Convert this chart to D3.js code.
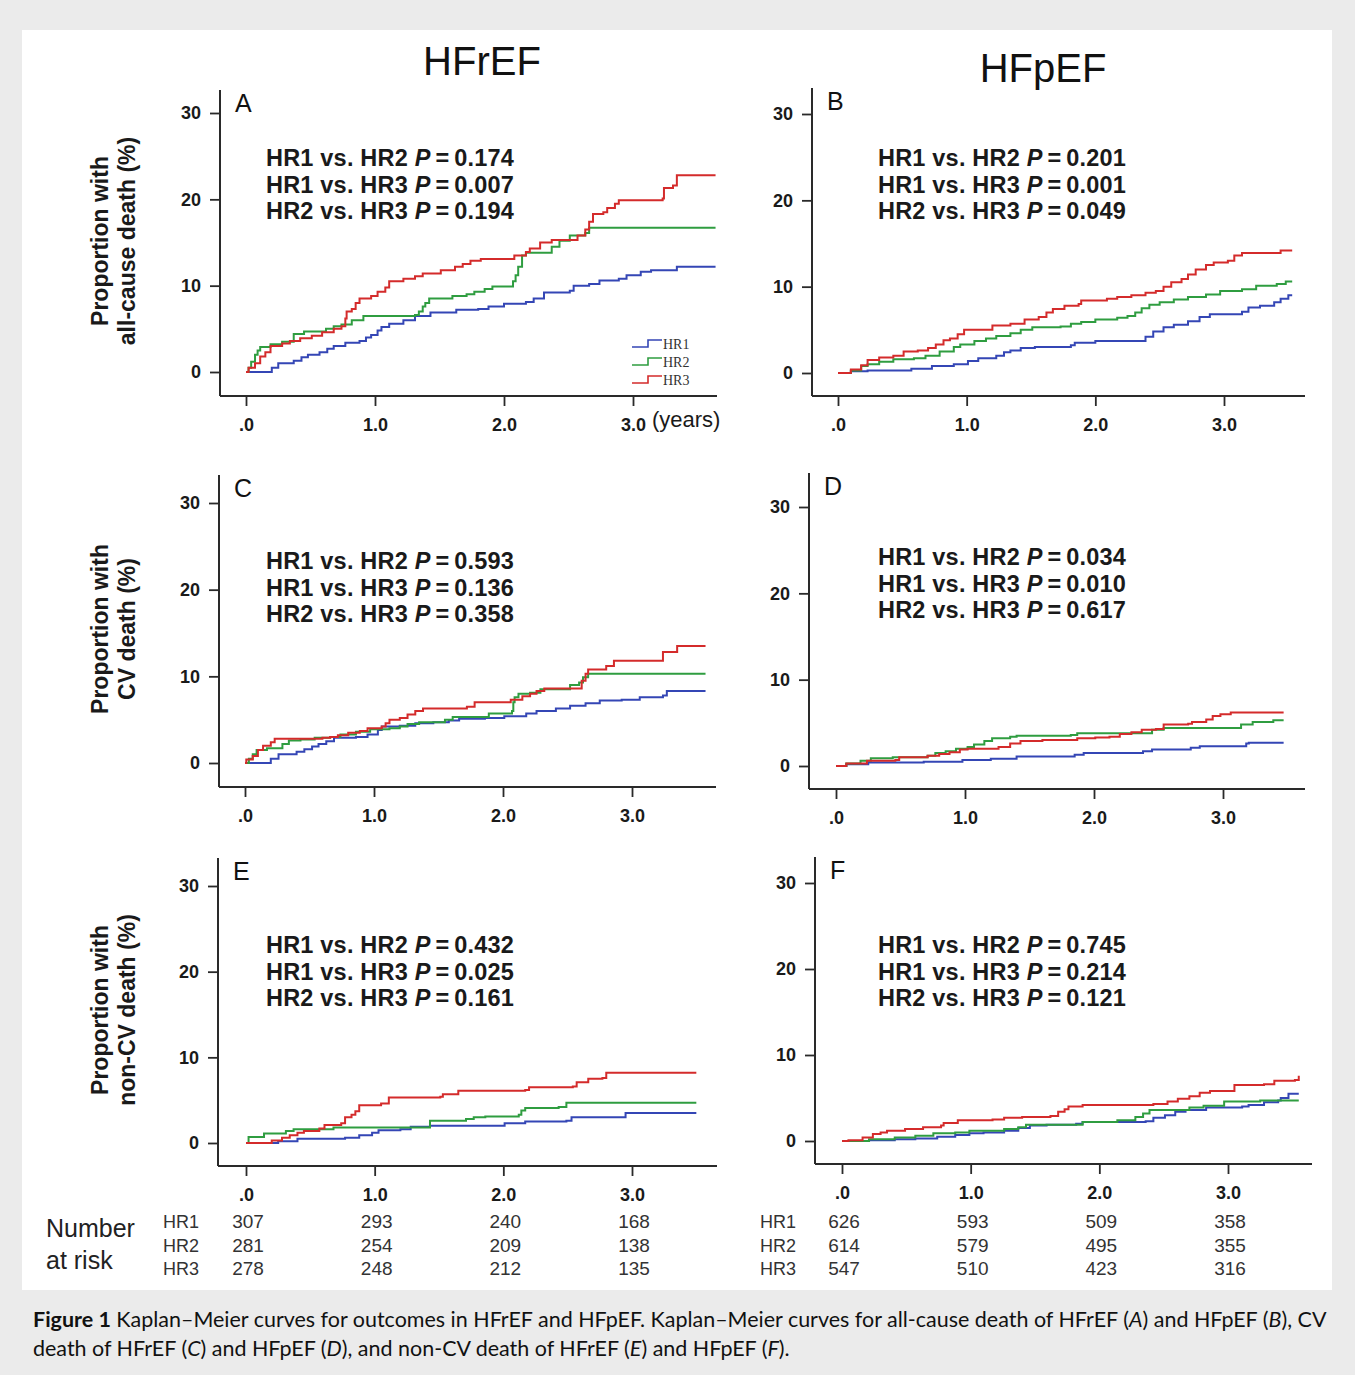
<!DOCTYPE html>
<html>
<head>
<meta charset="utf-8">
<script src="https://cdn.jsdelivr.net/npm/d3@7"></script>
<style>
  body { margin: 0; background: #ebebeb; }
  svg { display: block; }
</style>
</head>
<body>
<svg id="fig" width="1355" height="1375"></svg>
<script>
// ---- data ----
const groups = ["HR1", "HR2", "HR3"];
const yTicks = [0, 10, 20, 30];
const xTicks = [0, 1, 2, 3];
const xTickLabels = [".0", "1.0", "2.0", "3.0"];
const comparisons = ["HR1 vs. HR2", "HR1 vs. HR3", "HR2 vs. HR3"];
const outcomes = ["all-cause death (%)", "CV death (%)", "non-CV death (%)"];

const pA = ["0.174", "0.007", "0.194"];
const pB = ["0.201", "0.001", "0.049"];
const pC = ["0.593", "0.136", "0.358"];
const pD = ["0.034", "0.010", "0.617"];
const pE = ["0.432", "0.025", "0.161"];
const pF = ["0.745", "0.214", "0.121"];

const riskHFrEF = [[307, 293, 240, 168], [281, 254, 209, 138], [278, 248, 212, 135]];
const riskHFpEF = [[626, 593, 509, 358], [614, 579, 495, 355], [547, 510, 423, 316]];

// cumulative proportion (%) step curves: [years, %]
const aHR1 = [[0,0],[0.17,0],[0.2,0.5],[0.25,1.0],[0.37,1.3],[0.43,1.7],[0.48,2.0],[0.57,2.3],[0.63,2.7],[0.68,3.0],[0.77,3.4],[0.88,3.6],[0.93,4.0],[0.97,4.3],[1.02,4.8],[1.05,5.2],[1.11,5.6],[1.22,6.0],[1.31,6.5],[1.43,6.9],[1.63,7.2],[1.8,7.3],[1.88,7.6],[2.0,7.9],[2.17,8.1],[2.23,8.5],[2.31,9.2],[2.51,9.4],[2.54,10.0],[2.66,10.2],[2.74,10.6],[2.89,10.8],[2.95,11.2],[3.06,11.6],[3.14,11.8],[3.34,12.2],[3.64,12.2]];
const aHR2 = [[0,0],[0.02,0.5],[0.04,1.2],[0.07,2.0],[0.09,2.5],[0.11,2.9],[0.19,3.2],[0.28,3.5],[0.37,4.4],[0.45,4.7],[0.62,5.0],[0.68,5.3],[0.74,5.5],[0.82,6.0],[0.91,6.5],[1.31,6.6],[1.34,7.0],[1.37,7.6],[1.39,8.0],[1.42,8.5],[1.6,8.8],[1.71,9.0],[1.77,9.3],[1.85,9.6],[1.91,9.9],[2.07,10.5],[2.09,11.2],[2.11,12.2],[2.14,13.5],[2.17,13.8],[2.37,14.5],[2.43,15.2],[2.51,15.8],[2.63,16.1],[2.66,16.7],[3.64,16.7]];
const aHR3 = [[0,0],[0.02,0.5],[0.07,1.0],[0.11,1.8],[0.15,2.3],[0.19,3.0],[0.28,3.3],[0.34,3.6],[0.42,3.9],[0.51,4.2],[0.59,4.6],[0.68,5.0],[0.74,5.3],[0.77,6.2],[0.78,7.0],[0.82,7.3],[0.85,8.0],[0.88,8.5],[0.97,8.8],[1.02,9.3],[1.08,9.8],[1.11,10.5],[1.22,10.8],[1.31,11.1],[1.37,11.4],[1.51,11.8],[1.62,12.2],[1.68,12.5],[1.74,12.9],[1.82,13.1],[2.08,13.5],[2.17,13.9],[2.2,14.3],[2.28,15.0],[2.37,15.3],[2.57,15.8],[2.63,16.5],[2.66,17.4],[2.69,18.3],[2.77,18.5],[2.8,19.0],[2.86,19.5],[2.89,19.9],[3.23,20.1],[3.24,21.3],[3.31,21.6],[3.34,22.8],[3.64,22.8]];

const bHR1 = [[0,0],[0.1,0.2],[0.23,0.3],[0.57,0.5],[0.73,0.8],[0.9,1.0],[1.01,1.4],[1.09,1.7],[1.23,2.0],[1.29,2.4],[1.34,2.6],[1.42,2.9],[1.53,3.0],[1.81,3.2],[1.84,3.5],[2.0,3.7],[2.39,4.2],[2.45,4.8],[2.53,5.3],[2.61,5.6],[2.72,6.0],[2.81,6.5],[2.89,6.8],[3.14,7.1],[3.19,7.6],[3.28,7.8],[3.39,8.2],[3.44,8.6],[3.5,9.0],[3.53,9.0]];
const bHR2 = [[0,0],[0.1,0.3],[0.18,0.8],[0.23,1.0],[0.32,1.3],[0.43,1.6],[0.59,1.7],[0.68,2.0],[0.79,2.5],[0.9,3.0],[0.95,3.3],[1.06,3.7],[1.15,4.0],[1.23,4.3],[1.34,4.6],[1.42,5.0],[1.51,5.3],[1.73,5.4],[1.81,5.7],[1.89,5.9],[2.0,6.2],[2.17,6.4],[2.25,6.6],[2.31,7.0],[2.36,7.5],[2.42,7.9],[2.5,8.2],[2.61,8.5],[2.72,8.8],[2.86,9.1],[2.97,9.5],[3.14,9.7],[3.25,10.1],[3.41,10.3],[3.48,10.6],[3.53,10.6]];
const bHR3 = [[0,0],[0.1,0.4],[0.18,0.9],[0.23,1.5],[0.32,1.8],[0.43,2.0],[0.51,2.5],[0.62,2.6],[0.7,2.9],[0.76,3.3],[0.82,3.8],[0.87,4.0],[0.93,4.5],[0.98,5.0],[1.2,5.5],[1.34,5.7],[1.45,6.2],[1.56,6.5],[1.62,7.0],[1.67,7.4],[1.76,7.8],[1.87,8.0],[1.89,8.4],[2.09,8.6],[2.17,8.8],[2.28,9.0],[2.39,9.3],[2.47,9.5],[2.53,10.0],[2.59,10.5],[2.67,10.9],[2.72,11.4],[2.78,12.0],[2.86,12.5],[2.92,12.8],[3.03,13.0],[3.08,13.6],[3.14,13.9],[3.44,14.2],[3.53,14.2]];

const cHR1 = [[0,0],[0.17,0],[0.2,0.5],[0.26,1.0],[0.4,1.3],[0.46,1.6],[0.52,1.9],[0.57,2.2],[0.63,2.5],[0.69,2.9],[0.86,3.0],[0.95,3.3],[1.03,3.8],[1.06,4.2],[1.2,4.3],[1.32,4.6],[1.46,4.7],[1.58,4.9],[1.66,5.1],[1.86,5.2],[2.01,5.4],[2.18,5.7],[2.26,6.0],[2.41,6.3],[2.52,6.6],[2.64,6.9],[2.75,7.2],[2.92,7.3],[3.06,7.6],[3.24,7.8],[3.27,8.3],[3.57,8.3]];
const cHR2 = [[0,0],[0.03,0.5],[0.06,1.0],[0.09,1.5],[0.17,1.7],[0.29,2.2],[0.34,2.6],[0.43,2.7],[0.54,2.9],[0.66,3.0],[0.74,3.3],[0.86,3.6],[0.97,3.9],[1.12,4.0],[1.2,4.2],[1.26,4.5],[1.35,4.7],[1.55,5.0],[1.61,5.3],[1.89,5.7],[2.07,6.0],[2.08,7.0],[2.09,7.6],[2.12,8.0],[2.21,8.1],[2.29,8.5],[2.52,9.0],[2.59,9.3],[2.62,9.9],[2.66,10.3],[3.57,10.3]];
const cHR3 = [[0,0],[0.01,0.4],[0.06,0.8],[0.1,1.5],[0.14,2.0],[0.2,2.4],[0.23,2.8],[0.6,2.9],[0.66,3.0],[0.72,3.2],[0.8,3.5],[0.89,3.7],[0.95,4.0],[1.06,4.2],[1.09,4.6],[1.12,5.0],[1.2,5.2],[1.26,5.6],[1.32,6.0],[1.38,6.3],[1.72,6.5],[1.78,7.0],[2.06,7.3],[2.15,7.7],[2.21,8.0],[2.26,8.3],[2.32,8.6],[2.61,9.5],[2.64,10.3],[2.66,10.8],[2.8,11.2],[2.86,11.8],[3.24,12.8],[3.35,13.5],[3.57,13.5]];

const dHR1 = [[0,0],[0.08,0.2],[0.25,0.4],[0.68,0.5],[0.98,0.7],[1.2,0.85],[1.4,1.1],[1.85,1.3],[1.92,1.5],[2.38,1.7],[2.45,1.9],[2.75,2.1],[2.82,2.3],[3.18,2.6],[3.2,2.7],[3.47,2.7]];
const dHR2 = [[0,0],[0.08,0.3],[0.19,0.6],[0.27,0.9],[0.44,1.0],[0.71,1.2],[0.77,1.5],[0.85,1.7],[0.93,2.0],[1.02,2.2],[1.07,2.5],[1.15,2.9],[1.21,3.2],[1.35,3.4],[1.4,3.5],[1.82,3.6],[1.87,3.8],[2.45,4.2],[2.54,4.4],[3.14,4.8],[3.23,5.1],[3.39,5.3],[3.47,5.3]];
const dHR3 = [[0,0],[0.08,0.3],[0.24,0.6],[0.46,0.7],[0.49,1.0],[0.71,1.2],[0.8,1.4],[0.88,1.6],[0.96,1.9],[1.02,2.0],[1.26,2.2],[1.35,2.6],[1.43,2.9],[1.6,3.0],[1.87,3.2],[2.01,3.3],[2.12,3.4],[2.2,3.7],[2.29,3.9],[2.37,4.2],[2.48,4.3],[2.54,4.8],[2.73,4.9],[2.76,5.1],[2.87,5.4],[2.92,5.8],[2.98,6.0],[3.06,6.2],[3.47,6.2]];

const eHR1 = [[0,0],[0.2,0],[0.25,0.2],[0.4,0.5],[0.77,0.6],[0.88,0.9],[0.98,1.2],[1.03,1.5],[1.2,1.6],[1.28,1.9],[1.43,2.0],[2.01,2.3],[2.17,2.5],[2.49,2.6],[2.53,3.0],[2.95,3.5],[3.5,3.5]];
const eHR2 = [[0,0],[0.02,0.7],[0.14,1.1],[0.31,1.4],[0.37,1.6],[0.68,1.8],[1.43,2.6],[1.71,2.8],[1.77,3.0],[1.86,3.1],[2.12,3.3],[2.14,3.8],[2.17,4.1],[2.43,4.2],[2.49,4.7],[3.5,4.7]];
const eHR3 = [[0,0],[0.17,0],[0.2,0.3],[0.28,0.6],[0.34,0.9],[0.4,1.2],[0.45,1.4],[0.57,1.7],[0.61,2.1],[0.74,2.3],[0.77,3.0],[0.82,3.3],[0.85,3.7],[0.88,4.4],[1.05,4.6],[1.11,5.3],[1.51,5.4],[1.53,5.7],[1.65,6.1],[2.17,6.2],[2.2,6.5],[2.54,6.6],[2.57,7.1],[2.66,7.5],[2.77,7.6],[2.8,8.2],[3.5,8.2]];

const fHR1 = [[0,0],[0.21,0.1],[0.41,0.2],[0.57,0.3],[0.74,0.5],[0.88,0.7],[0.99,0.9],[1.1,1.0],[1.26,1.2],[1.37,1.5],[1.46,1.8],[1.59,1.9],[1.82,2.0],[1.87,2.2],[2.36,2.3],[2.42,2.7],[2.51,3.0],[2.59,3.4],[2.67,3.6],[2.83,3.9],[3.11,4.0],[3.16,4.2],[3.28,4.5],[3.39,4.7],[3.41,5.0],[3.47,5.5],[3.55,5.5]];
const fHR2 = [[0,0],[0.21,0.2],[0.41,0.4],[0.57,0.6],[0.71,0.9],[0.88,1.0],[0.99,1.2],[1.26,1.4],[1.37,1.6],[1.43,1.9],[1.87,2.2],[2.14,2.4],[2.28,2.8],[2.34,3.2],[2.39,3.6],[2.7,3.9],[2.81,4.1],[2.97,4.6],[3.25,4.7],[3.55,4.7]];
const fHR3 = [[0,0],[0.05,0.1],[0.16,0.4],[0.24,0.8],[0.3,1.0],[0.35,1.2],[0.49,1.4],[0.63,1.6],[0.77,1.8],[0.79,2.1],[0.9,2.4],[1.17,2.5],[1.26,2.7],[1.4,2.8],[1.62,2.9],[1.68,3.4],[1.73,3.7],[1.76,4.0],[1.87,4.2],[2.42,4.3],[2.53,4.6],[2.61,4.9],[2.7,5.2],[2.78,5.6],[2.86,5.8],[3.05,6.5],[3.28,6.6],[3.36,7.0],[3.52,7.1],[3.55,7.6]];

// ---- styling / layout ----
const colors = ["#3446b5", "#2f9d40", "#d42b2b"];
const axisColor = "#2a2a2a";
const sans = "Arial, 'Liberation Sans', Helvetica, sans-serif";

// pixel frame of each panel (x of t=0 / t=3, y of 0% / 30%, axis lines)
const panels = [
  { letter: "A", curves: [aHR1, aHR2, aHR3], p: pA, x0: 246, x3: 633, y0: 372, y30: 113, ax: 220, ay: 396, top: 90,  right: 717, px: 266, py: 166 },
  { letter: "B", curves: [bHR1, bHR2, bHR3], p: pB, x0: 838, x3: 1224, y0: 373, y30: 114, ax: 812, ay: 396, top: 88,  right: 1305, px: 878, py: 166 },
  { letter: "C", curves: [cHR1, cHR2, cHR3], p: pC, x0: 245, x3: 632, y0: 763, y30: 503, ax: 219, ay: 787, top: 475, right: 716, px: 266, py: 569 },
  { letter: "D", curves: [dHR1, dHR2, dHR3], p: pD, x0: 836, x3: 1223, y0: 766, y30: 507, ax: 809, ay: 789, top: 473, right: 1305, px: 878, py: 565 },
  { letter: "E", curves: [eHR1, eHR2, eHR3], p: pE, x0: 246, x3: 632, y0: 1143, y30: 886, ax: 218, ay: 1166, top: 858, right: 717, px: 266, py: 953 },
  { letter: "F", curves: [fHR1, fHR2, fHR3], p: pF, x0: 842, x3: 1228, y0: 1141, y30: 883, ax: 815, ay: 1164, top: 857, right: 1312, px: 878, py: 953 }
];

const svg = d3.select("#fig");

// paper background
svg.append("rect").attr("width", 1355).attr("height", 1375).attr("fill", "#ebebeb");
svg.append("rect").attr("x", 22).attr("y", 30).attr("width", 1310).attr("height", 1260).attr("fill", "#ffffff");

// column titles
svg.append("text").attr("x", 482).attr("y", 75).attr("text-anchor", "middle")
  .attr("font-family", sans).attr("font-size", 40).attr("fill", "#111").text("HFrEF");
svg.append("text").attr("x", 1043).attr("y", 82).attr("text-anchor", "middle")
  .attr("font-family", sans).attr("font-size", 40).attr("fill", "#111").text("HFpEF");

const scales = [];

panels.forEach((p, k) => {
  const g = svg.append("g");
  const x = d3.scaleLinear().domain([0, 3]).range([p.x0, p.x3]);
  const y = d3.scaleLinear().domain([0, 30]).range([p.y0, p.y30]);
  scales.push(x);

  // axis lines (longer than the data range)
  g.append("line").attr("x1", p.ax).attr("x2", p.ax).attr("y1", p.top).attr("y2", p.ay)
    .attr("stroke", axisColor).attr("stroke-width", 2);
  g.append("line").attr("x1", p.ax).attr("x2", p.right).attr("y1", p.ay).attr("y2", p.ay)
    .attr("stroke", axisColor).attr("stroke-width", 2);

  const yAxis = g.append("g").attr("transform", `translate(${p.ax},0)`)
    .call(d3.axisLeft(y).tickValues(yTicks).tickSize(10).tickPadding(9));
  const xAxis = g.append("g").attr("transform", `translate(0,${p.ay})`)
    .call(d3.axisBottom(x).tickValues(xTicks).tickFormat((d, i) => xTickLabels[i]).tickSize(10).tickPadding(12));
  [yAxis, xAxis].forEach(a => {
    a.select(".domain").remove();
    a.attr("font-family", sans).attr("font-size", 18).attr("font-weight", "bold");
    a.selectAll("line").attr("stroke", axisColor).attr("stroke-width", 1.8);
    a.selectAll("text").attr("fill", "#1a1a1a");
  });

  // step curves
  const line = d3.line().curve(d3.curveStepAfter).x(d => x(d[0])).y(d => y(d[1]));
  p.curves.forEach((c, i) => {
    g.append("path").datum(c).attr("d", line).attr("fill", "none")
      .attr("stroke", colors[i]).attr("stroke-width", 2);
  });

  // panel letter
  g.append("text").attr("x", p.ax + 15).attr("y", p.top + 22)
    .attr("font-family", sans).attr("font-size", 25).attr("fill", "#111").text(p.letter);

  // p values
  comparisons.forEach((cmp, i) => {
    const t = g.append("text").attr("x", p.px).attr("y", p.py + i * 26.5)
      .attr("font-family", sans).attr("font-size", 23.5).attr("font-weight", "bold")
      .attr("fill", "#1a1a1a").attr("letter-spacing", 0.2);
    t.append("tspan").text(cmp + " ");
    t.append("tspan").attr("font-style", "italic").text("P");
    t.append("tspan").text("\u2009=\u2009" + p.p[i]);
  });

  // y axis title for the left column
  if (k % 2 === 0) {
    const cy = (p.top + p.ay) / 2 - 2;
    const yl = g.append("text").attr("transform", `translate(108,${cy}) rotate(-90)`)
      .attr("text-anchor", "middle").attr("font-family", sans).attr("font-size", 23)
      .attr("font-weight", "bold").attr("fill", "#1a1a1a");
    yl.append("tspan").attr("x", 0).attr("y", 0).text("Proportion with");
    yl.append("tspan").attr("x", 0).attr("y", 27).text(outcomes[k / 2]);
  }

  // legend and units in panel A
  if (k === 0) {
    svg.append("text").attr("x", 652).attr("y", 427).attr("font-family", sans)
      .attr("font-size", 22).attr("fill", "#1a1a1a").text("(years)");
    groups.forEach((gname, i) => {
      const ly = 344 + i * 18;
      g.append("path").attr("d", `M632,${ly + 3}H648V${ly - 4}H662`)
        .attr("fill", "none").attr("stroke", colors[i]).attr("stroke-width", 1.6);
      g.append("text").attr("x", 663).attr("y", ly + 5)
        .attr("font-family", "'Liberation Serif', 'Times New Roman', serif")
        .attr("font-size", 14).attr("fill", "#333").text(gname);
    });
  }
});

// number at risk table
const riskFont = 19;
svg.append("text").attr("x", 46).attr("y", 1237).attr("font-family", sans)
  .attr("font-size", 25).attr("fill", "#222").text("Number");
svg.append("text").attr("x", 46).attr("y", 1269).attr("font-family", sans)
  .attr("font-size", 25).attr("fill", "#222").text("at risk");

[[riskHFrEF, scales[4], 163], [riskHFpEF, scales[5], 760]].forEach(([tbl, x, lx]) => {
  tbl.forEach((row, i) => {
    const ry = 1228 + i * 23.5;
    svg.append("text").attr("x", lx).attr("y", ry).attr("font-family", sans)
      .attr("font-size", riskFont - 1).attr("fill", "#333").text(groups[i]);
    svg.selectAll(null).data(row).join("text")
      .attr("x", (d, j) => x(xTicks[j]) + 2).attr("y", ry)
      .attr("text-anchor", "middle").attr("font-family", sans)
      .attr("font-size", riskFont).attr("fill", "#333").text(d => d);
  });
});

// caption
const capFont = "Lato, 'Open Sans', sans-serif";
const cap1 = svg.append("text").attr("x", 33).attr("y", 1327)
  .attr("font-family", capFont).attr("font-size", 20).attr("fill", "#111");
cap1.append("tspan").attr("font-weight", "bold").text("Figure 1");
cap1.append("tspan").text(" Kaplan\u2013Meier curves for outcomes in HFrEF and HFpEF. Kaplan\u2013Meier curves for all-cause death of HFrEF (");
cap1.append("tspan").attr("font-style", "italic").text("A");
cap1.append("tspan").text(") and HFpEF (");
cap1.append("tspan").attr("font-style", "italic").text("B");
cap1.append("tspan").text("), CV");

const cap2 = svg.append("text").attr("x", 33).attr("y", 1356)
  .attr("font-family", capFont).attr("font-size", 20).attr("fill", "#111");
const parts2 = ["death of HFrEF (", "C", ") and HFpEF (", "D", "), and non-CV death of HFrEF (", "E", ") and HFpEF (", "F", ")."];
parts2.forEach((s, i) => {
  cap2.append("tspan").attr("font-style", i % 2 ? "italic" : null).text(s);
});

// fit caption lines to the widths seen in the figure
[[cap1, 1294], [cap2, 757]].forEach(([t, w]) => {
  const len = t.node().getComputedTextLength();
  if (len > 0) t.attr("font-size", 20 * w / len);
});
</script>
</body>
</html>
